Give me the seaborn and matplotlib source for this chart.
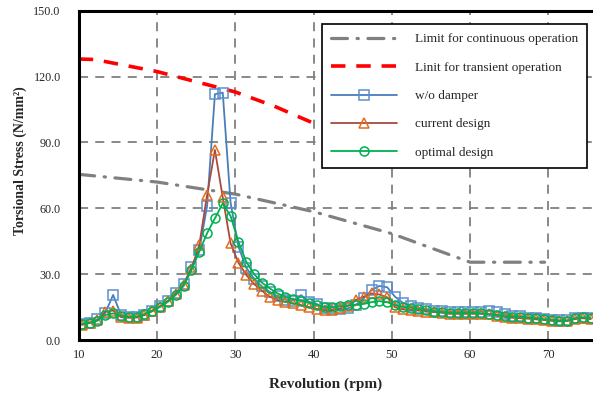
import numpy as np
import pandas as pd
import matplotlib
matplotlib.use("Agg")
import matplotlib.pyplot as plt
import seaborn as sns

# ================================================================
# Data
# ================================================================

rpm = [10.4, 11.4, 12.4, 13.4, 14.4, 15.4, 16.4, 17.4, 18.4, 19.4,
       20.4, 21.4, 22.4, 23.4, 24.4, 25.4, 26.4, 27.4, 28.4, 29.4,
       30.4, 31.4, 32.4, 33.4, 34.4, 35.4, 36.4, 37.4, 38.4, 39.4,
       40.4, 41.4, 42.4, 43.4, 44.4, 45.4, 46.4, 47.4, 48.4, 49.4,
       50.4, 51.4, 52.4, 53.4, 54.4, 55.4, 56.4, 57.4, 58.4, 59.4,
       60.4, 61.4, 62.4, 63.4, 64.4, 65.4, 66.4, 67.4, 68.4, 69.4,
       70.4, 71.4, 72.4, 73.4, 74.4, 75.4]

wo_damper = [7.2, 8.0, 9.5, 12.5, 20.6, 11.5, 10.5, 10.5, 11.5, 13.5,
             15.5, 17.8, 21.5, 25.5, 33.2, 41.0, 61.1, 112.0, 112.7, 62.6,
             42.6, 33.0, 28.0, 24.5, 22.0, 20.0, 18.5, 18.0, 20.5, 17.5,
             16.5, 14.5, 14.0, 14.0, 14.5, 16.0, 19.1, 22.8, 24.7, 24.1,
             19.8, 17.0, 15.5, 14.8, 14.0, 13.5, 13.2, 13.0, 13.0, 13.0,
             13.0, 13.0, 13.5, 13.0, 12.0, 11.2, 10.8, 10.3, 10.0, 9.5,
             9.2, 9.0, 9.0, 10.0, 10.3, 10.0]

current_design = [7.0, 7.8, 9.0, 13.0, 13.5, 10.5, 10.2, 10.3, 11.5, 13.2,
                  15.3, 17.8, 21.0, 25.0, 32.5, 43.3, 66.1, 86.6, 65.0, 44.1,
                  35.3, 29.7, 25.6, 22.5, 19.8, 18.3, 17.5, 16.8, 16.0, 15.0,
                  14.1, 13.7, 13.7, 14.5, 15.6, 18.3, 19.8, 21.3, 20.8, 19.5,
                  15.0, 14.0, 13.8, 13.5, 13.0, 12.8, 12.5, 12.0, 12.0, 12.0,
                  12.0, 12.0, 11.8, 11.2, 10.6, 10.2, 10.0, 9.8, 9.5, 9.2,
                  8.8, 8.6, 8.8, 9.6, 10.0, 9.6]

optimal_design = [7.4, 8.0, 8.9, 11.5, 12.2, 11.0, 10.7, 10.7, 11.9, 13.4,
                  15.2, 17.5, 20.6, 24.7, 31.9, 40.3, 48.7, 55.5, 62.3, 56.5,
                  44.8, 35.7, 30.1, 26.2, 23.6, 21.3, 19.8, 18.6, 18.0, 17.1,
                  16.0, 15.2, 15.0, 15.5, 15.8, 16.2, 16.5, 17.3, 17.8, 17.3,
                  16.0, 15.2, 14.8, 14.1, 13.7, 13.0, 12.7, 12.5, 12.5, 12.5,
                  12.5, 12.2, 11.9, 11.5, 11.0, 10.7, 10.7, 10.2, 10.0, 9.5,
                  9.2, 8.9, 8.9, 10.0, 10.4, 10.0]

limit_cont_rpm = [10, 20, 30, 40, 50, 60, 69.5]
limit_cont = [75.5, 72.0, 66.5, 58.5, 48.5, 35.5, 35.5]

limit_trans_rpm = [10, 12, 20, 30, 35, 40.5]
limit_trans = [128.0, 127.8, 122.3, 113.0, 106.5, 98.0]

x_ticks = [10, 20, 30, 40, 50, 60, 70]
y_ticks = [0, 30, 60, 90, 120, 150]

# ================================================================
# Plot
# ================================================================

sns.set_style("white")
plt.rcParams["font.family"] = ["Liberation Serif", "DejaVu Serif"]

fig = plt.figure(figsize=(5.93, 3.99), dpi=100)
ax = fig.add_axes([0.1327, 0.1474, 0.878, 0.8258])

sns.lineplot(x=limit_cont_rpm, y=limit_cont, ax=ax, color="#808080",
             linewidth=2.3, label="Limit for continuous operation")
ax.lines[-1].set_dashes((5, 3, 0.4, 3))
ax.lines[-1].set_dash_capstyle("round")

sns.lineplot(x=limit_trans_rpm, y=limit_trans, ax=ax, color="#FF0000",
             linewidth=2.6, label="Linit for transient operation")
ax.lines[-1].set_dashes((4, 3))

series = [
    (wo_damper, "w/o damper", "#4A7EBB", "#5B8FD0", "s"),
    (current_design, "current design", "#A84A40", "#E46C1E", "^"),
    (optimal_design, "optimal design", "#00B050", "#00B050", "o"),
]
for values, label, line_col, mark_col, marker in series:
    sns.lineplot(x=rpm, y=values, ax=ax, color=line_col, linewidth=1.3,
                 marker=marker, markersize=6.5, markerfacecolor="none",
                 markeredgecolor=mark_col, markeredgewidth=1.1, label=label)

ax.set_xlim(10, 76.5)
ax.set_ylim(0, 150)
ax.set_xticks(x_ticks)
ax.set_yticks(y_ticks)
ax.set_yticklabels([f"{v:.1f}" for v in y_ticks])
ax.tick_params(axis="x", direction="in", length=3, width=1, labelsize=9, pad=6)
ax.tick_params(axis="y", length=0, labelsize=8.7, pad=13)

ax.grid(True, color="#808080", linestyle=(0, (5, 4)), linewidth=1.3)
ax.set_axisbelow(True)
for side in ["left", "bottom", "top"]:
    ax.spines[side].set_color("black")
    ax.spines[side].set_linewidth(2.2)
ax.spines["right"].set_visible(False)

ax.set_xlabel("Revolution (rpm)", fontsize=11, fontweight="bold")
ax.set_ylabel("Torsional Stress (N/mm²)", fontsize=10, fontweight="bold")
ax.xaxis.set_label_coords(0.475, -0.113)
ax.yaxis.set_label_coords(-0.1, 0.544)

leg = ax.legend(loc="upper right", bbox_to_anchor=(587 / 593, 1 - 24 / 399),
                bbox_transform=fig.transFigure, borderaxespad=0,
                fontsize=9.5, frameon=True, fancybox=False, framealpha=1,
                edgecolor="black", handlelength=5.0, handletextpad=1.3,
                labelspacing=1.22, borderpad=0.7, numpoints=1)
leg.get_frame().set_linewidth(1.2)

fig.savefig("out.png", dpi=100)
